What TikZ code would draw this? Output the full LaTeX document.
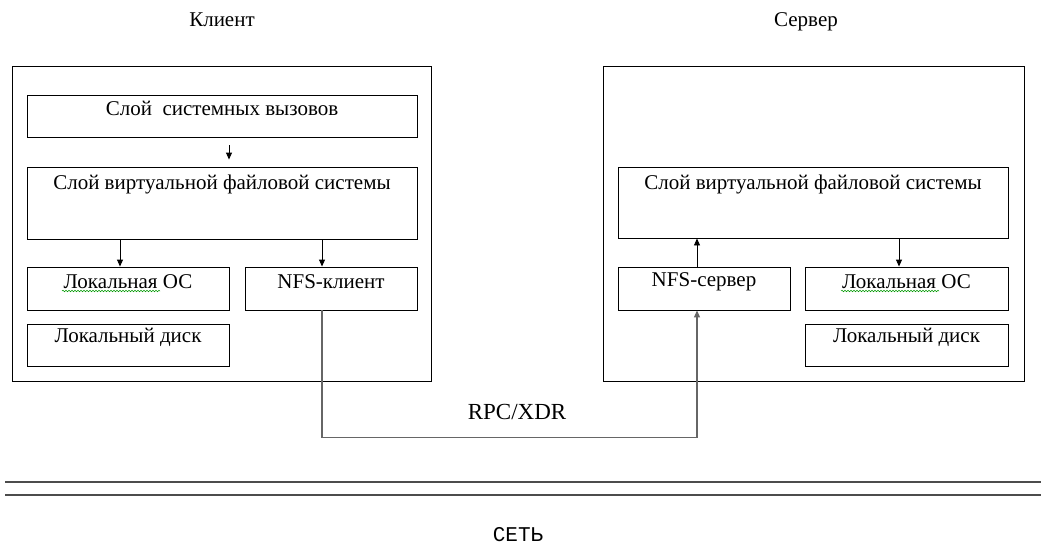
\documentclass[tikz,border=0pt]{standalone}
\usepackage{fontspec}
\setmainfont{Liberation Serif}
\newfontfamily\netfont{Liberation Mono}
\usetikzlibrary{fit,arrows.meta,decorations.pathmorphing}
\begin{document}
\begin{tikzpicture}[x=1pt,y=-1pt,
  box/.style={draw=black,line width=0.9pt,inner sep=0pt,fill=white},
  smallbox/.style={box,text depth=8pt,font=\fontsize{21}{22}\selectfont},
  outer/.style={draw=black,line width=1pt,inner sep=0pt},
  lbl/.style={font=\fontsize{21}{22}\selectfont,inner sep=0pt},
  arr/.style={line width=0.9pt,-{Triangle[length=7pt,width=6pt]}},
  conn/.style={draw=black!60,line width=1.1pt,-{Triangle[length=7pt,width=6pt]}},
  netline/.style={draw=black!70,line width=1.4pt}]
\useasboundingbox (0,0) rectangle (1041,546);
% titles
\node[lbl,anchor=base] (tcl) at (222,26) {Клиент};
\node[lbl,anchor=base] (tsv) at (806,26) {Сервер};
% client
\node[outer,fit={(12,66) (431,381)}] (cl) {};
\node[smallbox,text depth=4pt,fit={(27,95) (417,137)}] (csc) {Слой\ \ системных вызовов};
\node[box,fit={(27,167) (417,239)}] (cvfs) {};
\node[lbl,anchor=north] (cvfst) at ([yshift=-8pt]cvfs.north) {Слой виртуальной файловой системы};
\node[smallbox,fit={(27,267) (229,310)}] (cos) {Локальная ОС};
\node[smallbox,fit={(245,267) (417,310)}] (cnfs) {NFS-клиент};
\node[smallbox,fit={(27,324) (229,366)}] (cdisk) {Локальный диск};
% server
\node[outer,fit={(603,66) (1024,381)}] (sv) {};
\node[box,fit={(618,167) (1008,238)}] (svfs) {};
\node[lbl,anchor=north] (svfst) at ([yshift=-8pt]svfs.north) {Слой виртуальной файловой системы};
\node[smallbox,fit={(618,267) (790,310)}] (snfs) {NFS-сервер};
\node[smallbox,fit={(805,267) (1008,310)}] (sos) {Локальная ОС};
\node[smallbox,fit={(805,324) (1008,366)}] (sdisk) {Локальный диск};
% spell-check underlines
\draw[green!60!black,line width=0.5pt,decorate,decoration={snake,amplitude=0.8pt,segment length=3pt}]
  (62,291) -- (160,291);
\draw[green!60!black,line width=0.5pt,decorate,decoration={snake,amplitude=0.8pt,segment length=3pt}]
  (841,291) -- (939,291);
% anchor columns
\coordinate (xa) at ([xshift=7pt]csc.south);
\coordinate (xb) at ([xshift=-8pt]cos.north);
\coordinate (xc) at ([xshift=-9pt]cnfs.north);
\coordinate (xd) at ([xshift=-7pt]snfs.north);
\coordinate (xe) at ([xshift=-7.5pt]sos.north);
% arrows client
\draw[arr] ([yshift=-8pt]xa) -- ([yshift=7pt]xa |- cvfs.north);
\draw[arr] (xb |- cvfs.south) -- (xb);
\draw[arr] (xc |- cvfs.south) -- (xc);
% arrows server
\draw[arr] (xd) -- (xd |- svfs.south);
\draw[arr] (xe |- svfs.south) -- (xe);
% RPC connection
\coordinate (rpcl) at ([yshift=-127pt]xc |- cnfs.south);
\coordinate (rpcr) at (xd |- rpcl);
\draw[conn] (xc |- cnfs.south) -- (rpcl) -- (rpcr) -- (xd |- snfs.south);
\node[lbl,font=\fontsize{23}{24}\selectfont] (rpc) at (517,412) {RPC/XDR};
% network
\coordinate (n1a) at (5,482);
\coordinate (n1b) at (1041,482);
\coordinate (n2a) at (5,495);
\coordinate (n2b) at (1041,495);
\draw[netline] (n1a) -- (n1b);
\draw[netline] (n2a) -- (n2b);
\node[font=\netfont\fontsize{21}{22}\selectfont,inner sep=0pt] (net) at (518,535) {СЕТЬ};
\end{tikzpicture}
\end{document}
